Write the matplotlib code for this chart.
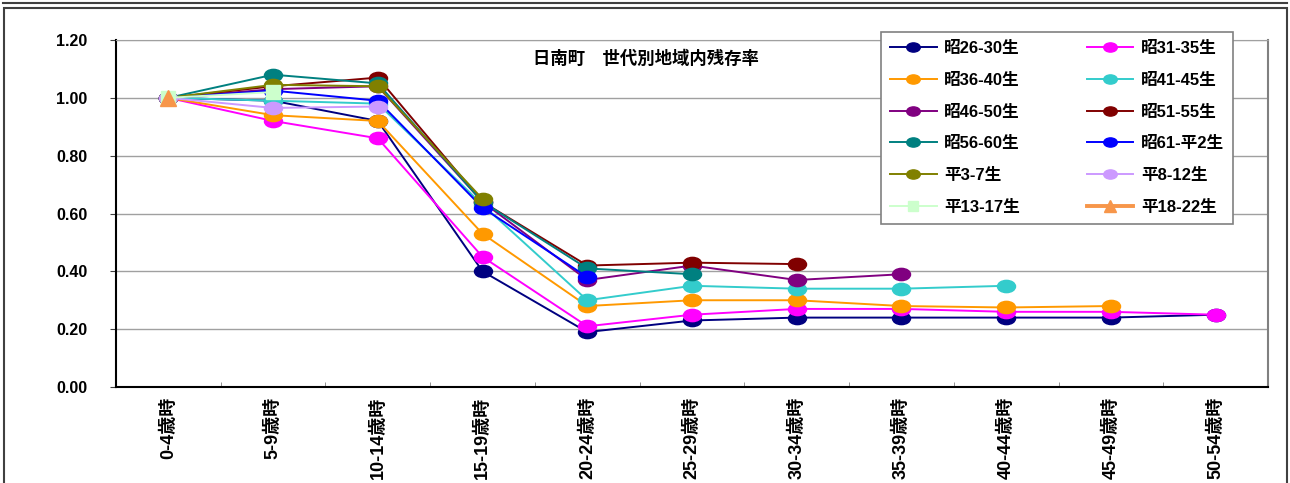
import numpy as np
import matplotlib
matplotlib.use('Agg')
import matplotlib.pyplot as plt
from matplotlib.path import Path
from matplotlib.lines import Line2D
from matplotlib.patches import Rectangle

plt.rcParams['font.family'] = ['Liberation Sans', 'Noto Sans CJK JP']
plt.rcParams['font.weight'] = 'bold'

# age groups
categories = ['0-4歳時', '5-9歳時', '10-14歳時', '15-19歳時', '20-24歳時', '25-29歳時',
              '30-34歳時', '35-39歳時', '40-44歳時', '45-49歳時', '50-54歳時']

# remaining rate per birth cohort
s26_30 = [1.00, 0.99, 0.92, 0.40, 0.19, 0.23, 0.24, 0.24, 0.24, 0.24, 0.25]
s31_35 = [1.00, 0.92, 0.86, 0.45, 0.21, 0.25, 0.27, 0.27, 0.26, 0.26, 0.25]
s36_40 = [1.00, 0.94, 0.92, 0.53, 0.28, 0.30, 0.30, 0.28, 0.275, 0.28]
s41_45 = [1.00, 0.99, 0.98, 0.63, 0.30, 0.35, 0.34, 0.34, 0.35]
s46_50 = [1.00, 1.03, 1.04, 0.64, 0.37, 0.42, 0.37, 0.39]
s51_55 = [1.00, 1.04, 1.07, 0.64, 0.42, 0.43, 0.425]
s56_60 = [1.00, 1.08, 1.05, 0.64, 0.41, 0.39]
s61_h2 = [1.00, 1.025, 0.99, 0.62, 0.38]
h3_7 = [1.00, 1.045, 1.04, 0.65]
h8_12 = [1.00, 0.965, 0.97]
h13_17 = [1.00, 1.02]
h18_22 = [1.00]

labels = ['昭26-30生', '昭31-35生', '昭36-40生', '昭41-45生', '昭46-50生', '昭51-55生',
          '昭56-60生', '昭61-平2生', '平3-7生', '平8-12生', '平13-17生', '平18-22生']
values = [s26_30, s31_35, s36_40, s41_45, s46_50, s51_55,
          s56_60, s61_h2, h3_7, h8_12, h13_17, h18_22]
colors = ['#000080', '#FF00FF', '#FF9900', '#33CCCC', '#800080', '#800000',
          '#008080', '#0000FF', '#808000', '#CC99FF', '#CCFFCC', '#F7964A']

# flattened circle marker like the excel one
circ = Path.unit_circle()
ell = Path(circ.vertices * np.array([1.0, 0.68]), circ.codes)

fig = plt.figure(figsize=(12.9, 4.83), dpi=100)
ax = fig.add_axes([116/1290, 96/483, 1152/1290, 347/483])

x = np.arange(len(categories))
for i, (lab, vals, col) in enumerate(zip(labels, values, colors)):
    mk, ms, lw = ell, 13, 1.4
    if lab == '平13-17生':
        mk, ms = 's', 10
    if lab == '平18-22生':
        mk, ms, lw = '^', 12, 2.8
    ax.plot(x[:len(vals)], vals, color=col, marker=mk, markersize=ms, lw=lw,
            markeredgecolor=col, label=lab, clip_on=False, zorder=3 + i * 0.01)

ax.set_xlim(-0.5, len(categories) - 0.5)
ax.set_ylim(0, 1.2)
ax.set_yticks(np.arange(0, 1.21, 0.2))
ax.set_yticklabels(['%.2f' % v for v in np.arange(0, 1.21, 0.2)], fontsize=11.5)
ax.set_xticks(x)
ax.set_xticklabels(categories, rotation=90, fontsize=13, va='top')
ax.set_xticks(x[:-1] + 0.5, minor=True)
ax.tick_params(axis='x', which='major', length=0, pad=7)
ax.tick_params(axis='x', which='minor', direction='in', length=3.5, color='#808080')
ax.tick_params(axis='y', direction='out', length=4.5, pad=16, color='#404040')
ax.grid(axis='y', color='#A0A0A0', lw=1)
ax.set_axisbelow(True)

for s in ['left', 'bottom']:
    ax.spines[s].set_color('black')
    ax.spines[s].set_linewidth(1.5)
ax.spines['top'].set_color('#A0A0A0')
ax.spines['right'].set_color('#808080')
ax.spines['right'].set_linewidth(1.5)

ax.text(0.46, 0.948, '日南町　世代別地域内残存率', transform=ax.transAxes,
        ha='center', va='center', fontsize=12.5)

# legend laid out row by row
h, l = ax.get_legend_handles_labels()
order = [0, 2, 4, 6, 8, 10, 1, 3, 5, 7, 9, 11]
leg = ax.legend([h[k] for k in order], [l[k] for k in order], ncol=2,
                loc='upper left', bbox_to_anchor=(0.664, 1.023),
                fontsize=12, handlelength=2.8, handletextpad=0.45,
                columnspacing=4.0, markerscale=0.75, labelspacing=1.0,
                borderaxespad=0, borderpad=0.55, fancybox=False,
                edgecolor='#808080', framealpha=1)
leg.get_frame().set_linewidth(1.2)
leg.set_zorder(10)

# outer frame
fig.add_artist(Line2D([3/1290, 1287/1290], [1 - 3/483, 1 - 3/483],
                      color='#404040', lw=1.5, transform=fig.transFigure))
fig.add_artist(Rectangle((4/1290, -0.01), 1283/1290, 1 - 8/483 + 0.01,
                         fill=False, edgecolor='#404040', lw=1.5,
                         transform=fig.transFigure))

plt.savefig('out.png', dpi=100)
